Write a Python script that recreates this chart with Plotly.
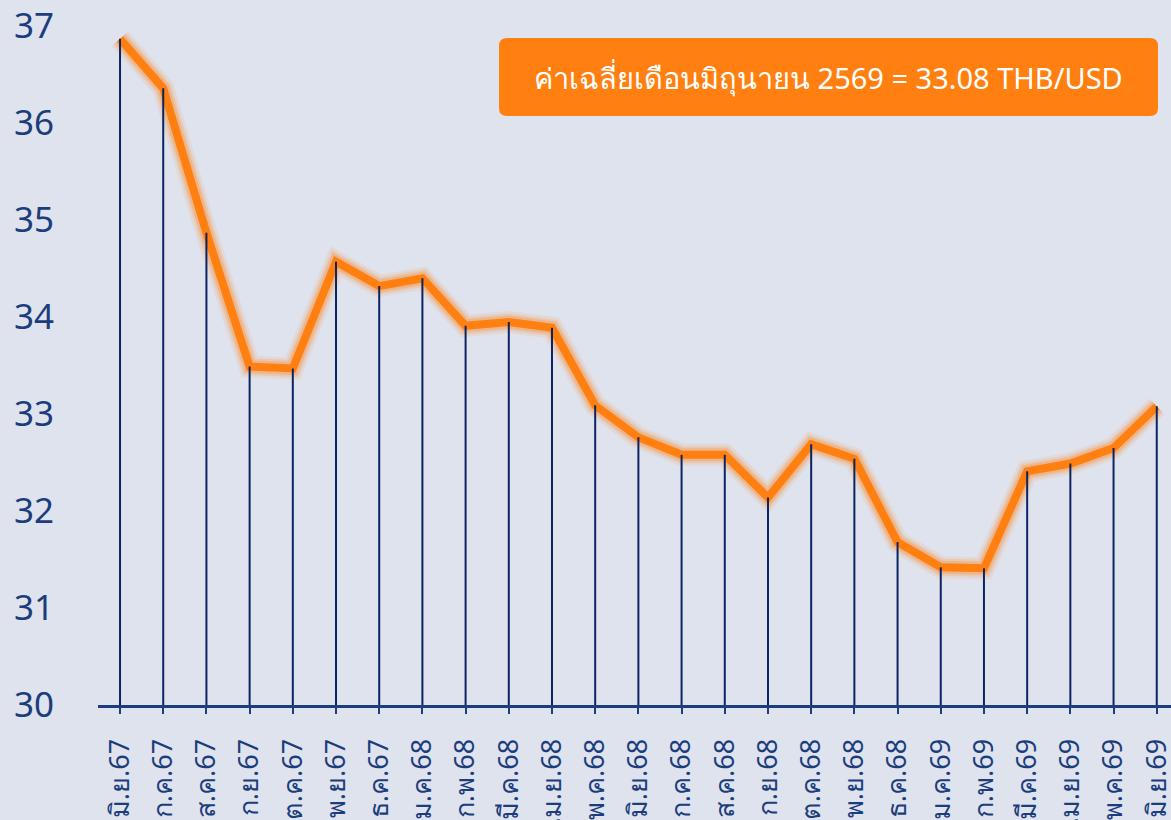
import plotly.graph_objects as go

# Thai month labels (Jun 2567 .. Jun 2569)
months = ["มิ.ย.67", "ก.ค.67", "ส.ค.67", "ก.ย.67", "ต.ค.67", "พ.ย.67", "ธ.ค.67",
          "ม.ค.68", "ก.พ.68", "มี.ค.68", "เม.ย.68", "พ.ค.68", "มิ.ย.68", "ก.ค.68",
          "ส.ค.68", "ก.ย.68", "ต.ค.68", "พ.ย.68", "ธ.ค.68", "ม.ค.69", "ก.พ.69",
          "มี.ค.69", "เม.ย.69", "พ.ค.69", "มิ.ย.69"]
thb_usd = [36.87, 36.36, 34.87, 33.49, 33.47, 34.57, 34.32, 34.40, 33.91, 33.95,
           33.89, 33.09, 32.76, 32.58, 32.58, 32.14, 32.69, 32.54, 31.68, 31.42,
           31.41, 32.41, 32.49, 32.65, 33.08]
y_ticks = [30, 31, 32, 33, 34, 35, 36, 37]
note_text = "ค่าเฉลี่ยเดือนมิถุนายน 2569 = 33.08 THB/USD"

navy = "#1c3d7c"
orange = "#ff7f11"
bg = "#dfe3ee"
W, H = 1171, 820

fig = go.Figure()

# soft glow under the main line
for w, op in [(22, 0.10), (17, 0.15), (13, 0.25)]:
    fig.add_trace(go.Scatter(x=months, y=thb_usd, mode="lines",
                             line=dict(color=orange, width=w),
                             opacity=op, hoverinfo="skip", showlegend=False))

fig.add_trace(go.Scatter(x=months, y=thb_usd, mode="lines",
                         line=dict(color=orange, width=8),
                         showlegend=False))

# vertical drop lines from each point to the axis
drop_x, drop_y = [], []
for m, v in zip(months, thb_usd):
    drop_x += [m, m, None]
    drop_y += [y_ticks[0], v, None]
fig.add_trace(go.Scatter(x=drop_x, y=drop_y, mode="lines",
                         line=dict(color="#0b2462", width=2),
                         hoverinfo="skip", showlegend=False))

# rounded orange note box (paper coords)
pw, ph = W - 98, 705
x0, x1 = (499 - 98) / pw, (1158 - 98) / pw
y0, y1 = 1 - 116 / ph, 1 - 38 / ph
rx, ry = 8 / pw, 8 / ph
path = (f"M{x0+rx},{y0} L{x1-rx},{y0} Q{x1},{y0} {x1},{y0+ry} "
        f"L{x1},{y1-ry} Q{x1},{y1} {x1-rx},{y1} L{x0+rx},{y1} "
        f"Q{x0},{y1} {x0},{y1-ry} L{x0},{y0+ry} Q{x0},{y0} {x0+rx},{y0} Z")
fig.add_shape(type="path", path=path, xref="paper", yref="paper",
              fillcolor=orange, line=dict(width=0), layer="above")
fig.add_annotation(x=(x0 + x1) / 2, y=(y0 + y1) / 2, xref="paper", yref="paper",
                   xanchor="center", yanchor="middle",
                   text=note_text, showarrow=False,
                   font=dict(family="Noto Sans, sans-serif", size=29, color="white"))

fig.update_layout(
    width=W, height=H,
    margin=dict(l=98, r=0, t=0, b=115),
    paper_bgcolor=bg, plot_bgcolor=bg,
    font=dict(family="Noto Sans, sans-serif", color=navy),
    xaxis=dict(
        range=[-0.51, 24.33], showgrid=False, zeroline=False,
        showline=True, linecolor=navy, linewidth=3,
        ticks="outside", ticklen=6, tickcolor=navy, tickwidth=2,
        tickangle=-90, tickfont=dict(size=27, color=navy),
        ticklabelstandoff=14, automargin=False,
    ),
    yaxis=dict(
        range=[30, 37.27], showgrid=False, zeroline=False, showline=False,
        tickvals=y_ticks, tickfont=dict(size=35, color=navy),
        ticklabelstandoff=43, automargin=False,
    ),
)

fig.write_html("out.html",
               config={"displayModeBar": False},
               post_script="document.body.style.margin='0';"
                           "document.body.style.background='#dfe3ee';"
                           "document.body.style.overflow='hidden';")
